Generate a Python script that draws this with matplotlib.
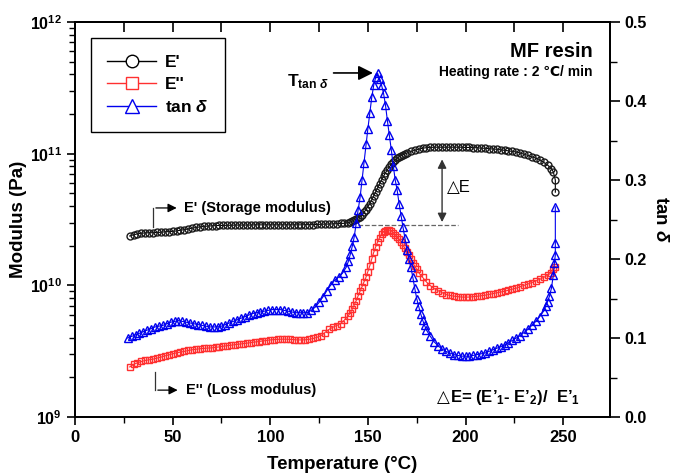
import numpy as np
import matplotlib
matplotlib.use('Agg')
import matplotlib.pyplot as plt
from matplotlib.lines import Line2D
from matplotlib.ticker import MultipleLocator, LogLocator, NullFormatter, FormatStrFormatter

plt.rcParams['font.family'] = ['Liberation Sans', 'DejaVu Sans']
plt.rcParams['font.weight'] = 'bold'
plt.rcParams['axes.labelweight'] = 'bold'
plt.rcParams['mathtext.fontset'] = 'custom'
plt.rcParams['mathtext.rm'] = 'Liberation Sans:bold'
plt.rcParams['mathtext.it'] = 'Liberation Sans:italic:bold'
plt.rcParams['mathtext.bf'] = 'Liberation Sans:bold'

# storage modulus E' (x 1e10 Pa)
t_e1 = [28, 30, 32, 34, 36, 38, 40, 42, 44, 46, 48, 50, 52, 54, 56, 58, 60, 62, 64, 66,
        68, 70, 72, 74, 76, 78, 80, 82, 84, 86, 88, 90, 92, 94, 96, 98, 100, 102, 104, 106,
        108, 110, 112, 114, 116, 118, 120, 122, 124, 126, 128, 130, 132, 134, 136, 138, 140,
        141, 142, 143, 144, 145, 146, 147, 148, 149, 150, 151, 152, 153, 154, 155, 156, 157,
        158, 159, 160, 161, 162, 163, 164, 165, 166, 167, 168, 169, 170, 172, 174, 176, 178,
        180, 182, 184, 186, 188, 190, 192, 194, 196, 198, 200, 202, 204, 206, 208, 210, 212,
        214, 216, 218, 220, 222, 224, 226, 228, 230, 232, 234, 236, 238, 240, 242, 244, 245,
        246, 246]
e1 = [2.37, 2.42, 2.46, 2.49, 2.50, 2.51, 2.51, 2.52, 2.53, 2.55, 2.56, 2.57, 2.59, 2.62,
      2.65, 2.68, 2.72, 2.75, 2.78, 2.80, 2.82, 2.83, 2.84, 2.85, 2.85, 2.86, 2.86, 2.87,
      2.87, 2.87, 2.87, 2.87, 2.88, 2.88, 2.88, 2.88, 2.88, 2.88, 2.88, 2.88, 2.88, 2.88,
      2.88, 2.88, 2.88, 2.89, 2.89, 2.89, 2.90, 2.91, 2.92, 2.92, 2.93, 2.94, 2.95, 2.96,
      3.00, 3.02, 3.07, 3.13, 3.18, 3.24, 3.33, 3.43, 3.58, 3.76, 3.96, 4.17, 4.47, 4.79,
      5.13, 5.50, 5.90, 6.31, 6.73, 7.16, 7.55, 7.94, 8.33, 8.71, 8.98, 9.23, 9.45, 9.66,
      9.82, 9.96, 10.1, 10.4, 10.6, 10.8, 11.0, 11.1, 11.15, 11.2, 11.2, 11.2, 11.2, 11.2,
      11.2, 11.2, 11.2, 11.15, 11.15, 11.1, 11.1, 11.0, 11.0, 10.9, 10.85, 10.8, 10.7, 10.6,
      10.5, 10.4, 10.3, 10.1, 9.9, 9.7, 9.45, 9.25, 9.0, 8.6, 8.2, 7.7, 7.25, 6.3, 5.1]

# loss modulus E'' (x 1e9 Pa)
t_e2 = [28, 30, 32, 34, 36, 38, 40, 42, 44, 46, 48, 50, 52, 54, 56, 58, 60, 62, 64, 66,
        68, 70, 72, 74, 76, 78, 80, 82, 84, 86, 88, 90, 92, 94, 96, 98, 100, 102, 104, 106,
        108, 110, 112, 114, 116, 118, 120, 122, 124, 126, 128, 130, 132, 134, 136, 138, 140,
        141, 142, 143, 144, 145, 146, 147, 148, 149, 150, 151, 152, 153, 154, 155, 156, 157,
        158, 159, 160, 161, 162, 163, 164, 165, 166, 167, 168, 169, 170, 171, 172, 173, 174,
        175, 176, 178, 180, 182, 184, 186, 188, 190, 192, 194, 196, 198, 200, 202, 204, 206,
        208, 210, 212, 214, 216, 218, 220, 222, 224, 226, 228, 230, 232, 234, 236, 238, 240,
        242, 244, 245, 246]
e2 = [2.40, 2.51, 2.58, 2.64, 2.69, 2.72, 2.75, 2.80, 2.85, 2.91, 2.96, 3.02, 3.07, 3.11,
      3.15, 3.20, 3.24, 3.27, 3.30, 3.32, 3.34, 3.35, 3.38, 3.41, 3.45, 3.48, 3.51, 3.54,
      3.57, 3.60, 3.63, 3.67, 3.71, 3.74, 3.78, 3.81, 3.85, 3.87, 3.89, 3.90, 3.90, 3.89,
      3.87, 3.85, 3.85, 3.86, 3.89, 3.95, 4.03, 4.15, 4.38, 4.62, 4.80, 4.95, 5.13, 5.45,
      5.90, 6.17, 6.60, 7.08, 7.65, 8.32, 9.00, 9.77, 10.6, 11.5, 12.7, 14.1, 15.9, 17.8,
      19.6, 21.4, 23.0, 24.5, 25.5, 26.0, 26.3, 26.3, 25.9, 25.1, 24.3, 23.4, 22.4, 21.4,
      20.2, 19.1, 18.0, 17.0, 15.9, 14.8, 14.0, 13.2, 12.5, 11.5, 10.6, 9.95, 9.44, 9.10,
      8.80, 8.51, 8.38, 8.28, 8.20, 8.15, 8.13, 8.15, 8.20, 8.26, 8.33, 8.41, 8.53, 8.65,
      8.77, 8.90, 9.02, 9.18, 9.35, 9.52, 9.75, 10.0, 10.25, 10.5, 10.8, 11.1, 11.5, 11.9,
      12.5, 13.2, 13.8]

# tan delta
t_tan = [27, 29, 31, 33, 35, 37, 39, 41, 43, 45, 47, 49, 51, 53, 55, 57, 59, 61, 63, 65,
         67, 69, 71, 73, 75, 77, 79, 81, 83, 85, 87, 89, 91, 93, 95, 97, 99, 101, 103, 105,
         107, 109, 111, 113, 115, 117, 119, 121, 123, 125, 127, 129, 131, 133, 135, 137, 139,
         140, 141, 142, 143, 144, 145, 146, 147, 148, 149, 150, 151, 152, 153, 154, 155, 156,
         157, 158, 159, 160, 161, 162, 163, 164, 165, 166, 167, 168, 169, 170, 171, 172, 173,
         174, 175, 176, 177, 178, 179, 180, 182, 184, 186, 188, 190, 192, 194, 196, 198, 200,
         202, 204, 206, 208, 210, 212, 214, 216, 218, 220, 222, 224, 226, 228, 230, 232, 234,
         236, 238, 240, 241, 242, 243, 244, 245, 245.5, 246, 246, 246]
tan_d = [0.100, 0.102, 0.104, 0.106, 0.108, 0.110, 0.112, 0.114, 0.115, 0.116, 0.118, 0.120,
         0.121, 0.122, 0.121, 0.120, 0.119, 0.118, 0.117, 0.116, 0.115, 0.114, 0.114, 0.114,
         0.115, 0.117, 0.119, 0.121, 0.123, 0.125, 0.127, 0.129, 0.131, 0.132, 0.133, 0.134,
         0.135, 0.136, 0.136, 0.136, 0.135, 0.134, 0.133, 0.132, 0.132, 0.132, 0.132, 0.135,
         0.139, 0.145, 0.152, 0.160, 0.167, 0.173, 0.177, 0.182, 0.190, 0.197, 0.206, 0.216,
         0.228, 0.245, 0.262, 0.278, 0.300, 0.322, 0.345, 0.365, 0.385, 0.405, 0.420, 0.430,
         0.435, 0.428, 0.420, 0.410, 0.395, 0.375, 0.357, 0.338, 0.318, 0.300, 0.287, 0.270,
         0.255, 0.240, 0.226, 0.212, 0.200, 0.190, 0.177, 0.163, 0.150, 0.140, 0.131, 0.123,
         0.116, 0.110, 0.102, 0.095, 0.090, 0.086, 0.083, 0.081, 0.079, 0.078, 0.077, 0.077,
         0.077, 0.078, 0.079, 0.080, 0.081, 0.083, 0.085, 0.087, 0.089, 0.091, 0.094, 0.097,
         0.100, 0.103, 0.107, 0.111, 0.116, 0.121, 0.127, 0.134, 0.140, 0.146, 0.153, 0.163,
         0.180, 0.195, 0.205, 0.220, 0.266]

e1_level = 2.88e10   # E'1, glassy plateau

fig = plt.figure(figsize=(6.74, 4.74), dpi=100)
ax = fig.add_axes([75/674, 1-417/474, (610-75)/674, (417-22)/474])
ax2 = ax.twinx()

ax.plot(t_e1, np.array(e1)*1e10, color='black', lw=0.8, marker='o', ms=5,
        mfc='none', mec='#1a1a1a', mew=1.0)
ax.plot(t_e2, np.array(e2)*1e9, color='#ff3030', lw=0.8, marker='s', ms=4.8,
        mfc='none', mec='#ff3030', mew=1.0)
ax2.plot(t_tan, tan_d, color='#0000ee', lw=0.8, marker='^', ms=5.5,
         mfc='none', mec='#0000ee', mew=1.0)

ax.set_yscale('log')
ax.set_ylim(1e9, 1e12)
ax.set_xlim(0, 274)
ax2.set_ylim(0, 0.5)

ax.set_yticks([1e9, 1e10, 1e11, 1e12],
              labels=[r'$10^{9}$', r'$10^{10}$', r'$10^{11}$', r'$10^{12}$'])
ax.yaxis.set_minor_locator(LogLocator(base=10, subs=np.arange(2, 10)))
ax.yaxis.set_minor_formatter(NullFormatter())
ax.set_xticks(np.arange(0, 251, 50))
ax.xaxis.set_minor_locator(MultipleLocator(25))
ax.tick_params(which='major', direction='out', length=6, width=1.2, labelsize=12)
ax.tick_params(axis='y', which='major', labelsize=11.5)
ax.tick_params(which='minor', direction='out', length=4, width=1.0)

top = ax.secondary_xaxis('top')
top.set_xticks(np.arange(0, 275, 25))
top.xaxis.set_major_formatter(NullFormatter())
top.tick_params(direction='in', length=7, width=1.2)

ax2.set_yticks(np.arange(0, 0.51, 0.1))
ax2.yaxis.set_major_formatter(FormatStrFormatter('%.1f'))
ax2.yaxis.set_minor_locator(MultipleLocator(0.05))
ax2.tick_params(which='major', direction='out', length=7, width=1.2, labelsize=11.5)
ax2.tick_params(which='minor', direction='out', length=5, width=1.0)

for lab in ax.get_xticklabels() + ax.get_yticklabels() + ax2.get_yticklabels():
    lab.set_fontweight('bold')

for a in (ax, ax2):
    for s in a.spines.values():
        s.set_linewidth(1.3)
top.spines['top'].set_linewidth(1.3)

ax.set_xlabel('Temperature (°C)', fontsize=13.5, fontweight='bold', labelpad=8)
ax.set_ylabel('Modulus (Pa)', fontsize=13.5, fontweight='bold', labelpad=2)
ax2.set_ylabel(r'tan $\delta$', fontsize=13.5, fontweight='bold', rotation=270, labelpad=16)

h1 = Line2D([], [], color='black', lw=1, marker='o', ms=9, mfc='white', mec='black')
h2 = Line2D([], [], color='#ff3030', lw=1, marker='s', ms=8.5, mfc='white', mec='#ff3030')
h3 = Line2D([], [], color='#0000ee', lw=1, marker='^', ms=9.5, mfc='white', mec='#0000ee')
leg = ax2.legend([h1, h2, h3], ["E'", "E''", r'tan $\delta$'], loc='upper left',
                 bbox_to_anchor=(91/674, 1-38/474), bbox_transform=fig.transFigure,
                 borderaxespad=0, fancybox=False, edgecolor='black', framealpha=1,
                 fontsize=12.5, handlelength=2.8, labelspacing=0.42, borderpad=0.95,
                 handletextpad=0.5)
leg.get_frame().set_linewidth(1.0)
for txt in leg.get_texts():
    txt.set_fontweight('bold')

# annotations
ax.plot([145, 196], [e1_level, e1_level], ls='--', color='#666666', lw=0.9)
ax.annotate('', xy=(188, 9.5e10), xytext=(188, e1_level),
            arrowprops=dict(arrowstyle='<|-|>', color='#333333', lw=1, mutation_scale=13))
ax2.text(190.5, 0.29, '△E', fontsize=12, fontweight='normal', va='center')

ax.plot([40, 40], [2.77e10, 3.87e10], color='#333333', lw=0.9)
ax.annotate('', xy=(53.5, 3.87e10), xytext=(40, 3.87e10),
            arrowprops=dict(arrowstyle='-|>', color='black', lw=0.9, mutation_scale=13))
ax.text(56, 3.87e10, "E' (Storage modulus)", fontsize=10.5, va='center')

ax.plot([41, 41], [2.2e9, 1.6e9], color='#333333', lw=0.9)
ax.annotate('', xy=(54, 1.6e9), xytext=(41, 1.6e9),
            arrowprops=dict(arrowstyle='-|>', color='black', lw=0.9, mutation_scale=13))
ax.text(57, 1.6e9, "E'' (Loss modulus)", fontsize=10.5, va='center')

ax2.annotate('', xy=(154, 0.4355), xytext=(131, 0.4355),
             arrowprops=dict(arrowstyle='-|>', color='black', lw=1.2, mutation_scale=22))
ax2.text(108.7, 0.425, r'T$_{\mathrm{tan}\ \delta}$', fontsize=12.5, va='center')

ax2.text(265, 0.463, 'MF resin', ha='right', va='center', fontsize=14.5)
ax2.text(265, 0.437, 'Heating rate : 2 ℃/ min', ha='right', va='center', fontsize=10)
ax2.text(185.5, 0.025, '△', fontsize=12, fontweight='normal', va='center')
ax2.text(192.3, 0.025, "E= (E’$_1$- E’$_2$)/  E’$_1$", fontsize=12, va='center')

fig.savefig('out.png', dpi=100)
